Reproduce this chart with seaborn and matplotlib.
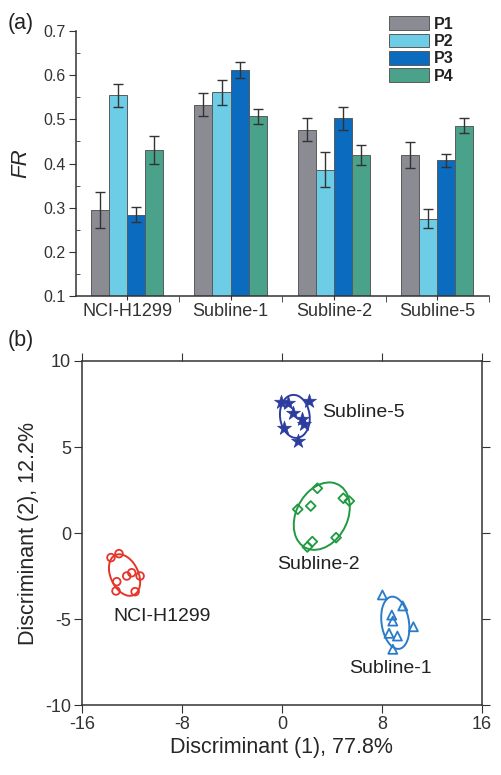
import numpy as np
import pandas as pd
import seaborn as sns
import matplotlib.pyplot as plt
from matplotlib.patches import Ellipse
from matplotlib.ticker import MultipleLocator

# ---- panel (a): FR per subline and probe ----
groups = ["NCI-H1299", "Subline-1", "Subline-2", "Subline-5"]
probes = ["P1", "P2", "P3", "P4"]
fr_p1 = [0.295, 0.533, 0.477, 0.419]
fr_p2 = [0.555, 0.561, 0.386, 0.275]
fr_p3 = [0.284, 0.611, 0.503, 0.407]
fr_p4 = [0.430, 0.507, 0.419, 0.486]
err_p1 = [0.041, 0.026, 0.027, 0.029]
err_p2 = [0.026, 0.028, 0.040, 0.021]
err_p3 = [0.017, 0.018, 0.026, 0.014]
err_p4 = [0.032, 0.017, 0.022, 0.017]
bar_colors = ["#8b8b93", "#6dcde6", "#0b6cbf", "#4aa28a"]

# ---- panel (b): discriminant scores ----
nci_x = [-13.68, -13.04, -12.02, -12.42, -11.35, -13.22, -13.28, -11.75]
nci_y = [-1.43, -1.20, -2.31, -2.50, -2.50, -2.83, -3.37, -3.41]
sub1_x = [8.05, 9.68, 8.80, 8.88, 8.58, 9.25, 10.53, 8.88]
sub1_y = [-3.60, -4.24, -4.77, -5.12, -5.83, -5.99, -5.45, -6.76]
sub2_x = [1.27, 2.31, 2.84, 4.92, 5.40, 4.34, 2.44, 2.04]
sub2_y = [1.38, 1.57, 2.60, 2.02, 1.86, -0.27, -0.50, -0.81]
sub5_x = [-0.06, 0.50, 2.20, 0.87, 1.59, 1.75, 0.20, 1.27]
sub5_y = [7.60, 7.55, 7.70, 6.96, 6.63, 6.35, 6.09, 5.35]

sns.set_style("ticks")
plt.rcParams["font.family"] = ["Liberation Sans", "DejaVu Sans"]
plt.rcParams["axes.unicode_minus"] = False
plt.rcParams["axes.linewidth"] = 1.1
plt.rcParams["axes.edgecolor"] = "#333333"
plt.rcParams["xtick.color"] = "#333333"
plt.rcParams["ytick.color"] = "#333333"
plt.rcParams["text.color"] = "#222222"

fig = plt.figure(figsize=(5.01, 7.75), dpi=100)

# ================= (a) =================
ax1 = fig.add_axes([0.1507, 0.618, 0.8253, 0.342])

fr_vals = [fr_p1, fr_p2, fr_p3, fr_p4]
fr_errs = [err_p1, err_p2, err_p3, err_p4]
rows = []
for p, vals, errs in zip(probes, fr_vals, fr_errs):
    for g, v, e in zip(groups, vals, errs):
        rows.append({"group": g, "probe": p, "FR": v, "err": e})
df_fr = pd.DataFrame(rows)

sns.barplot(data=df_fr, x="group", y="FR", hue="probe", order=groups,
            hue_order=probes, palette=bar_colors, width=0.7, gap=0,
            saturation=1, errorbar=None, edgecolor="#5a5a5a", linewidth=0.7,
            ax=ax1)

# error bars at the bar centres
for cont, p in zip(ax1.containers, probes):
    sub = df_fr[df_fr["probe"] == p].set_index("group").loc[groups]
    xs = [b.get_x() + b.get_width() / 2 for b in cont]
    ax1.errorbar(xs, sub["FR"], yerr=sub["err"], fmt="none", ecolor="#333333",
                 elinewidth=1.0, capsize=3.5, capthick=1.0, zorder=5)

ax1.set_ylim(0.1, 0.7)
ax1.set_xlim(-0.5, 3.5)
ax1.yaxis.set_major_locator(MultipleLocator(0.1))
ax1.yaxis.set_minor_locator(MultipleLocator(0.05))
ax1.set_xticks(range(len(groups)))
ax1.set_xticklabels(groups)
ax1.set_xticks([0.5, 1.5, 2.5, 3.5], minor=True)
ax1.tick_params(axis="y", which="major", direction="out", length=5,
                labelsize=11.5, pad=2)
ax1.tick_params(axis="y", which="minor", direction="in", length=3)
ax1.tick_params(axis="x", which="major", direction="inout", length=6,
                labelsize=13, pad=2)
ax1.tick_params(axis="x", which="minor", direction="out", length=4)
ax1.set_xlabel("")
ax1.set_ylabel("FR", fontsize=16, style="italic", labelpad=9)
sns.despine(ax=ax1)

handles, labels = ax1.get_legend_handles_labels()
ax1.legend(handles, labels, loc="upper left", bbox_to_anchor=(0.777, 0.979),
           bbox_transform=fig.transFigure, frameon=False, borderpad=0,
           borderaxespad=0, handlelength=2.5, handleheight=0.95,
           handletextpad=0.3, labelspacing=0.12,
           prop={"weight": "bold", "size": 11.5})

fig.text(0.016, 0.970, "(a)", fontsize=15.5, va="center", ha="left")

# ================= (b) =================
ax2 = fig.add_axes([0.1637, 0.0903, 0.7978, 0.4439])

clusters = [
    ("NCI-H1299", nci_x, nci_y, "#e5352b", "o", 5.5),
    ("Subline-1", sub1_x, sub1_y, "#2a7cc9", "^", 6.5),
    ("Subline-2", sub2_x, sub2_y, "#1f9a40", "D", 5.0),
    ("Subline-5", sub5_x, sub5_y, "#2c3d9f", "*", 10.5),
]
label_pos = {
    "NCI-H1299": (-13.5, -4.85),
    "Subline-1": (5.4, -7.85),
    "Subline-2": (-0.35, -1.85),
    "Subline-5": (3.25, 7.0),
}

for name, xs, ys, col, mk, ms in clusters:
    if mk == "*":
        sns.scatterplot(x=xs, y=ys, marker=mk, color=col, s=ms ** 2,
                        edgecolor=col, linewidth=0.5, ax=ax2, zorder=4)
    else:
        sns.scatterplot(x=xs, y=ys, marker=mk, color=col, facecolor="none",
                        edgecolor=col, s=ms ** 2, linewidth=1.3, ax=ax2,
                        zorder=4)
    # covariance ellipse around each cluster
    pts = np.column_stack([xs, ys])
    cov = np.cov(pts, rowvar=False)
    vals, vecs = np.linalg.eigh(cov)
    order = vals.argsort()[::-1]
    vals, vecs = vals[order], vecs[:, order]
    ang = np.degrees(np.arctan2(vecs[1, 0], vecs[0, 0]))
    n_std = 1.5
    w, h = 2 * n_std * np.sqrt(vals)
    ax2.add_patch(Ellipse(pts.mean(axis=0), w, h, angle=ang, fill=False,
                          edgecolor=col, linewidth=1.4, zorder=3))
    lx, ly = label_pos[name]
    ax2.text(lx, ly, name, fontsize=14, ha="left", va="center", color="#222222")

ax2.set_xlim(-16, 16)
ax2.set_ylim(-10, 10)
ax2.set_xticks([-16, -8, 0, 8, 16])
ax2.set_yticks([-10, -5, 0, 5, 10])
ax2.tick_params(direction="out", length=6, labelsize=13, top=True, right=True,
                pad=2)
for s in ax2.spines.values():
    s.set_visible(True)
ax2.set_xlabel("Discriminant (1), 77.8%", fontsize=15.5, labelpad=3)
ax2.set_ylabel("Discriminant (2), 12.2%", fontsize=15.5, labelpad=4)

fig.text(0.016, 0.560, "(b)", fontsize=15.5, va="center", ha="left")

fig.savefig("out.png", dpi=100)
